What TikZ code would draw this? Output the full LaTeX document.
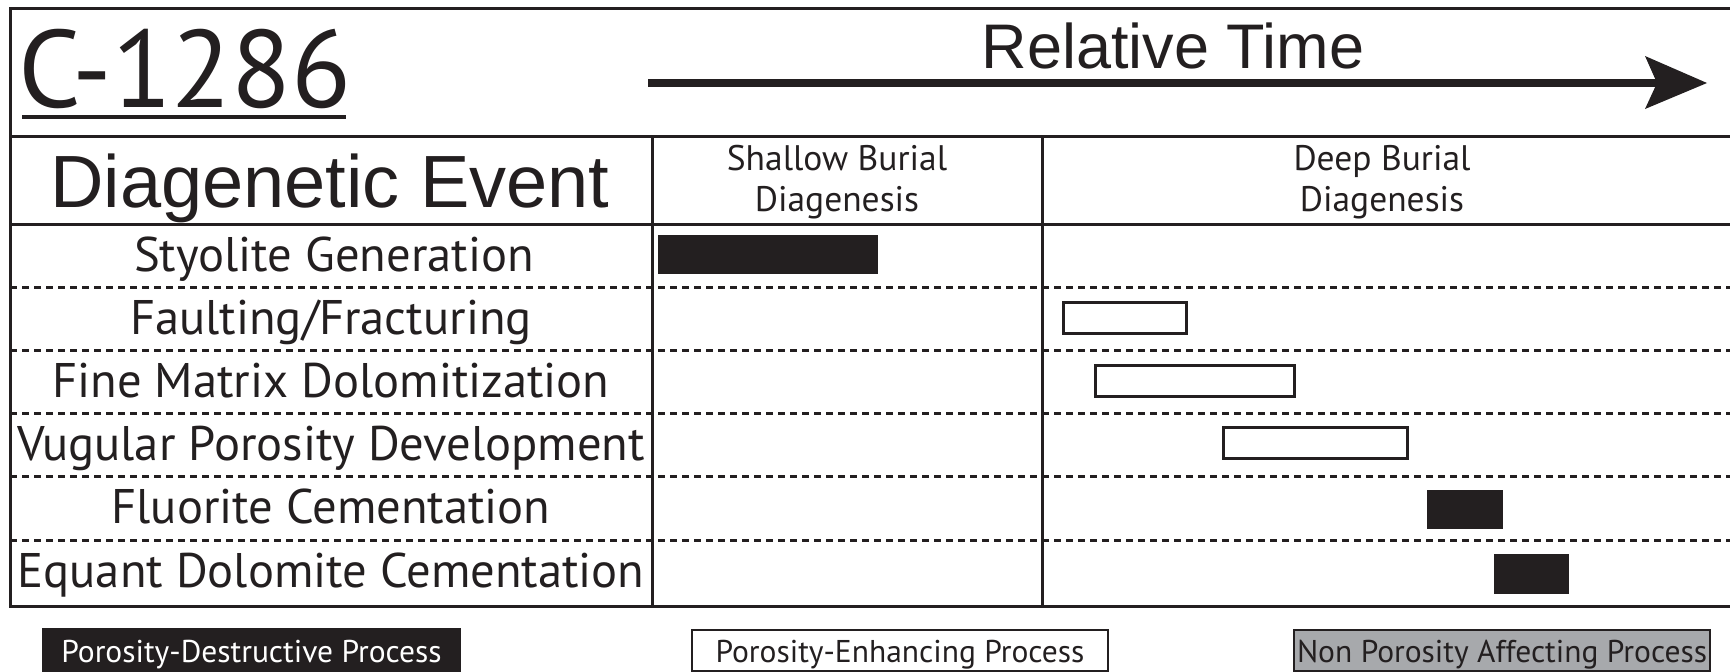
\documentclass[tikz,border=0pt]{standalone}
\usepackage{fontspec}
\setmainfont{PT Sans}
\newfontfamily\arialfont{Liberation Sans}
\definecolor{ink}{HTML}{231F20}
\definecolor{neutral}{HTML}{A7A9AC}
\begin{document}
\begin{tikzpicture}[x=1pt,y=-1pt,
  rule/.style={draw=ink,line width=3pt},
  rowline/.style={draw=ink,line width=3pt,dash pattern=on 7pt off 5pt},
  destrbar/.style={fill=ink},
  enhbar/.style={draw=ink,fill=white,line width=3pt},
  eventlabel/.style={anchor=base,inner sep=0pt,text=ink,font=\fontsize{48.6}{52}\selectfont},
  phaselabel/.style={anchor=base,inner sep=0pt,text=ink,align=center,font=\fontsize{35.5}{40}\selectfont},
  legendtext/.style={anchor=base,inner sep=0pt,font=\fontsize{31.5}{36}\selectfont}]
\useasboundingbox (0,0) rectangle (1730,672);

% title block
\node[anchor=base west,inner sep=0pt,text=ink,font=\fontsize{110}{120}\selectfont] (sample) at (18,107) {C-1286};
\draw[ink,line width=4pt] (22,117) -- (346,117);
\node[anchor=base,inner sep=0pt,text=ink,font=\arialfont\fontsize{63}{70}\selectfont] (timelabel) at (1173,68) {Relative Time};

% time arrow
\coordinate (tstart) at (648,83);
\coordinate (ttip) at (1707,83);
\draw[ink,line width=8pt] (tstart) -- (1660,83);
\fill[ink] (ttip) -- (1645,56) -- (1657,83) -- (1645,109) -- cycle;

% table frame
\draw[rule] (1730,8) -- (10,8) -- (10,606) -- (1730,606);
\draw[rule] (10,136) -- (1730,136);
\draw[rule] (10,224) -- (1730,224);
\draw[rule] (652,136) -- (652,606);
\draw[rule] (1042,136) -- (1042,606);
\foreach \yy in {287,350,413,476,540}
  \draw[rowline] (10,\yy) -- (1730,\yy);

% column headings
\node[anchor=base,inner sep=0pt,text=ink,font=\arialfont\fontsize{74}{80}\selectfont] (evhead) at (330,207) {Diagenetic Event};
\node[phaselabel] (shallow) at (837,170) {Shallow Burial};
\node[phaselabel] (shallow2) at (837,211) {Diagenesis};
\node[phaselabel] (deep) at (1382,170) {Deep Burial};
\node[phaselabel] (deep2) at (1382,211) {Diagenesis};

% events
\node[eventlabel] (ev1) at (334,271) {Styolite Generation};
\node[eventlabel] (ev2) at (331,334) {Faulting/Fracturing};
\node[eventlabel] (ev3) at (331,397) {Fine Matrix Dolomitization};
\node[eventlabel] (ev4) at (331,460) {Vugular Porosity Development};
\node[eventlabel] (ev5) at (331,523) {Fluorite Cementation};
\node[eventlabel] (ev6) at (331,587) {Equant Dolomite Cementation};

% timing bars
\fill[destrbar] (658,235) rectangle (878,274);
\draw[enhbar] (1063,302) rectangle (1186,333);
\draw[enhbar] (1095,365) rectangle (1294,396);
\draw[enhbar] (1223,427) rectangle (1407,458);
\fill[destrbar] (1427,490) rectangle (1503,529);
\fill[destrbar] (1494,554) rectangle (1569,594);

% legend
\fill[ink] (42,628) rectangle (461,672);
\node[legendtext,text=white] (lgd1) at (251.5,662) {Porosity-Destructive Process};
\draw[ink,line width=2pt,fill=white] (692,630) rectangle (1108,671);
\node[legendtext,text=ink] (lgd2) at (900,662) {Porosity-Enhancing Process};
\draw[ink,line width=2pt,fill=neutral] (1294,630) rectangle (1710,671);
\node[legendtext,text=ink] (lgd3) at (1502,662) {Non Porosity Affecting Process};
\end{tikzpicture}
\end{document}
